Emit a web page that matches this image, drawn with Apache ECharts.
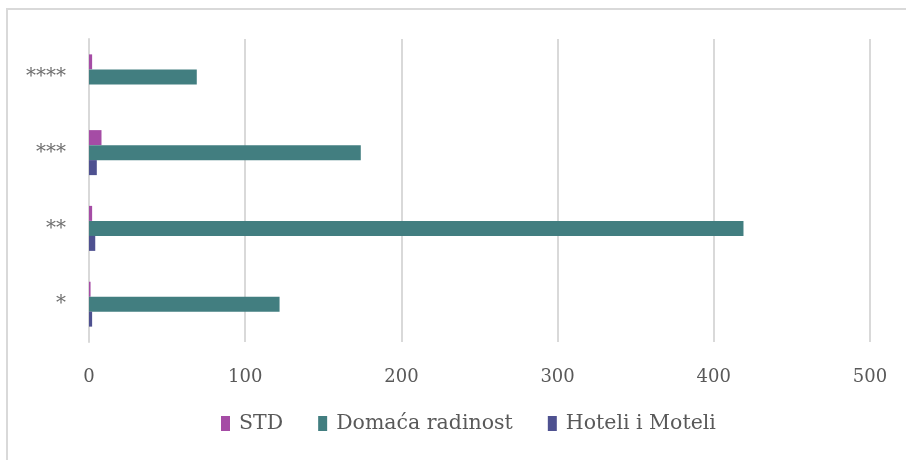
<!DOCTYPE html>
<html>
<head>
<meta charset="utf-8">
<script src="https://cdn.jsdelivr.net/npm/echarts@6/dist/echarts.min.js"></script>
<style>
html,body{margin:0;padding:0;background:#fff;}
#c{width:906px;height:460px;}
</style>
</head>
<body>
<div id="c"></div>
<script>
var categories = ['*', '**', '***', '****'];
var seriesNames = ['STD', 'Domaća radinost', 'Hoteli i Moteli'];
var stdValues = [1, 2, 8, 2];
var domacaValues = [122, 419, 174, 69];
var hoteliValues = [2, 4, 5, 0];
var xTicks = [0, 100, 200, 300, 400, 500];

var colors = ['#a54ca5', '#427e80', '#4e5190'];
var font = 'DejaVu Serif';

var chart = echarts.init(document.getElementById('c'), null, {renderer: 'canvas'});
chart.setOption({
  animation: false,
  backgroundColor: '#ffffff',
  color: colors,
  graphic: [
    {type: 'line', shape: {x1: 7, y1: 8, x2: 7, y2: 470},
     style: {stroke: '#d9d9d9', lineWidth: 2}, silent: true},
    {type: 'line', shape: {x1: 6, y1: 9, x2: 906, y2: 9},
     style: {stroke: '#d9d9d9', lineWidth: 2}, silent: true}
  ],
  grid: {left: 89, right: 36, top: 39, bottom: 118, containLabel: false},
  legend: {
    data: seriesNames,
    bottom: 26,
    left: 221,
    padding: 0,
    itemWidth: 9,
    itemHeight: 15,
    itemGap: 35,
    icon: 'rect',
    textStyle: {fontFamily: font, fontSize: 20.5, color: '#595959', padding: [0, 0, 0, 4]}
  },
  xAxis: {
    type: 'value',
    min: xTicks[0],
    max: xTicks[xTicks.length - 1],
    interval: 100,
    axisLine: {show: false},
    axisTick: {show: false},
    splitLine: {show: true, lineStyle: {color: '#d9d9d9', width: 2}},
    axisLabel: {fontFamily: font, fontSize: 18, color: '#595959', margin: 26}
  },
  yAxis: {
    type: 'category',
    data: categories,
    axisLine: {show: true, lineStyle: {color: '#d9d9d9', width: 2}},
    axisTick: {show: false},
    axisLabel: {fontFamily: font, fontSize: 20, color: '#707070', margin: 23}
  },
  series: [
    {name: seriesNames[0], type: 'bar', data: stdValues, barWidth: 15, barGap: '0%'},
    {name: seriesNames[1], type: 'bar', data: domacaValues, barWidth: 15, barGap: '0%'},
    {name: seriesNames[2], type: 'bar', data: hoteliValues, barWidth: 15, barGap: '0%'}
  ]
});
</script>
</body>
</html>
